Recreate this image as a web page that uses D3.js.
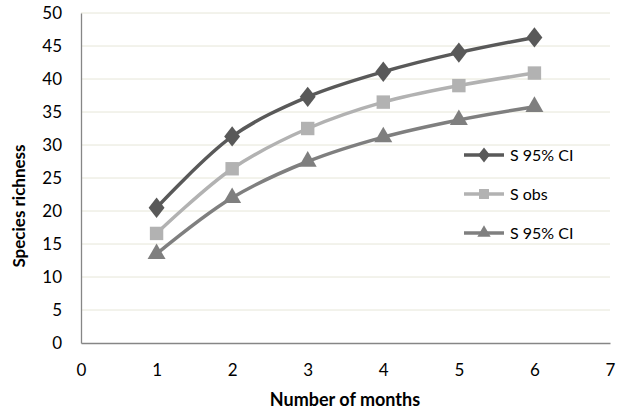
<!DOCTYPE html>
<html>
<head>
<meta charset="utf-8">
<script src="https://cdn.jsdelivr.net/npm/d3@7"></script>
<style>
body { margin: 0; background: #fff; }
text { font-family: Lato, "Open Sans", sans-serif; }
</style>
</head>
<body>
<svg width="629" height="416"></svg>
<script>
const months = [1, 2, 3, 4, 5, 6];
const upper = [20.5, 31.3, 37.3, 41.1, 44.0, 46.3];
const sobs = [16.6, 26.4, 32.5, 36.5, 39.0, 40.9];
const lower = [13.5, 22.0, 27.5, 31.2, 33.8, 35.8];
const series_names = ['S 95% CI', 'S obs', 'S 95% CI'];
const x_ticks = [0, 1, 2, 3, 4, 5, 6, 7];
const y_ticks = [0, 5, 10, 15, 20, 25, 30, 35, 40, 45, 50];

const svg = d3.select('svg');
const plot_left = 81, plot_right = 610, plot_top = 13, plot_bottom = 343;

var x = d3.scaleLinear().domain([0, 7]).range([plot_left, plot_right]);
var y = d3.scaleLinear().domain([0, 50]).range([plot_bottom, plot_top]);

// gridlines
svg.append('g').selectAll('line').data(y_ticks.filter(d => d > 0)).enter().append('line')
  .attr('x1', plot_left).attr('x2', plot_right)
  .attr('y1', d => y(d)).attr('y2', d => y(d))
  .attr('stroke', '#e6e6d8').attr('stroke-width', 1);

// axes
var yaxis = svg.append('g').attr('transform', `translate(${plot_left},0)`)
  .call(d3.axisLeft(y).tickValues(y_ticks).tickFormat(d3.format('d')).tickSize(0).tickPadding(19));
var xaxis = svg.append('g').attr('transform', `translate(0,${plot_bottom})`)
  .call(d3.axisBottom(x).tickValues(x_ticks).tickFormat(d3.format('d')).tickSize(0).tickPadding(21));
[yaxis, xaxis].forEach(a => {
  a.select('.domain').attr('stroke', '#868686').attr('stroke-width', 1.3);
  a.selectAll('text').attr('font-size', 17).attr('fill', '#000')
    .style('font-family', 'Lato, "Open Sans", sans-serif');
});

svg.append('text').attr('x', 345).attr('y', 406)
  .attr('text-anchor', 'middle').attr('font-size', 18).attr('font-weight', 'bold')
  .text('Number of months');
svg.append('text').attr('transform', `translate(25,206) rotate(-90)`)
  .attr('text-anchor', 'middle').attr('font-size', 17).attr('font-weight', 'bold')
  .text('Species richness');

const all = [
  { vals: upper, color: '#595959', shape: d3.symbolDiamond, size: 120 },
  { vals: sobs, color: '#b2b2b2', shape: d3.symbolSquare, size: 180 },
  { vals: lower, color: '#7f7f7f', shape: d3.symbolTriangle, size: 140 }
];

var line = d3.line().x((d, i) => x(months[i])).y(d => y(d)).curve(d3.curveCatmullRom.alpha(0.5));

all.forEach((s, k) => {
  svg.append('path').attr('d', line(s.vals)).attr('fill', 'none')
    .attr('stroke', s.color).attr('stroke-width', 3.5);
  svg.append('g').selectAll('path').data(s.vals).enter().append('path')
    .attr('d', d3.symbol().type(s.shape).size(s.size))
    .attr('transform', (d, i) => `translate(${x(months[i])},${y(d)})` + (s.shape === d3.symbolDiamond ? ' scale(1.35,1)' : ''))
    .attr('fill', s.color);

  // legend
  var ly = [155, 194, 233][k];
  svg.append('line').attr('x1', 464).attr('x2', 504).attr('y1', ly).attr('y2', ly)
    .attr('stroke', s.color).attr('stroke-width', 3.5);
  svg.append('path').attr('d', d3.symbol().type(s.shape).size(s.size * 0.55))
    .attr('transform', `translate(484,${ly})` + (s.shape === d3.symbolDiamond ? ' scale(1.35,1)' : ''))
    .attr('fill', s.color);
  svg.append('text').attr('x', 510).attr('y', ly + 6).attr('font-size', 16).attr('fill', '#000')
    .text(series_names[k]);
});
</script>
</body>
</html>
